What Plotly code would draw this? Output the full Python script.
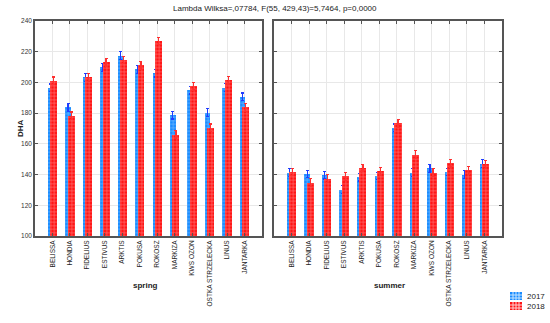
import plotly.graph_objects as go

categories = ["BELISSA", "HONDIA", "FIDELIUS", "ESTIVUS", "ARKTIS", "POKUSA", "ROKOSZ",
              "MARKIZA", "KWS OZON", "OSTKA STRZELECKA", "LINUS", "JANTARKA"]
spring_2017 = [196.5, 183.7, 203.3, 209.8, 217.4, 208.5, 206.0, 178.7, 195.0, 180.4, 196.7, 190.6]
spring_2018 = [201.0, 178.3, 203.3, 213.0, 214.6, 211.3, 227.0, 166.0, 197.6, 170.4, 201.5, 183.7]
summer_2017 = [141.3, 140.4, 139.6, 130.2, 138.3, 139.1, 170.4, 141.3, 144.1, 141.7, 140.0, 147.2]
summer_2018 = [141.7, 134.8, 137.4, 138.9, 144.3, 142.2, 173.3, 153.0, 141.3, 147.4, 142.8, 146.7]
err_2017 = [2.5, 2.5, 2.5, 2.5, 2.5, 2.5, 2.5, 2.5, 2.5, 2.5, 2.5, 2.5]
err_2018 = [2.5, 2.5, 2.5, 2.5, 2.5, 2.5, 2.5, 2.5, 2.5, 2.5, 2.5, 2.5]
years = ["2017", "2018"]
seasons = ["spring", "summer"]
title_text = "Lambda Wilksa=,07784, F(55, 429,43)=5,7464, p=0,0000"

FONT = "Liberation Sans, Arial, sans-serif"
BLUE = "#1a8cff"
RED = "#ff1414"
BLUE_FG = "#c8e6ff"
RED_FG = "#ffd0d0"
idx = list(range(len(categories)))

fig = go.Figure()

def add_pair(v17, v18, xa, ya):
    fig.add_trace(go.Bar(
        x=idx, y=v17, base=0, name=years[0], showlegend=False,
        offset=-0.27, width=0.32, xaxis=xa, yaxis=ya,
        marker=dict(color=BLUE, line=dict(width=0),
                    pattern=dict(shape="+", bgcolor=BLUE, fgcolor=BLUE_FG, size=3.5, solidity=0.35)),
        error_y=dict(type="data", array=err_2017, color="#1f3dff", thickness=1.2, width=1.5),
    ))
    fig.add_trace(go.Bar(
        x=idx, y=v18, base=0, name=years[1], showlegend=False,
        offset=-0.13, width=0.40, xaxis=xa, yaxis=ya,
        marker=dict(color=RED, line=dict(width=0),
                    pattern=dict(shape="+", bgcolor=RED, fgcolor=RED_FG, size=3.5, solidity=0.35)),
        error_y=dict(type="data", array=err_2018, color="#ff3030", thickness=1.2, width=1.5),
    ))

add_pair(spring_2017, spring_2018, "x", "y")
add_pair(summer_2017, summer_2018, "x2", "y2")

ydom = [1 - 236 / 323, 1 - 21 / 323]
xcommon = dict(
    tickmode="array", tickvals=idx, ticktext=categories, tickangle=-90,
    range=[-1, 12], showgrid=True, gridcolor="#e8e8e8", gridwidth=1,
    showline=True, linecolor="#555555", linewidth=1.5, mirror="ticks",
    ticks="inside", ticklen=3, tickcolor="#555555",
    tickfont=dict(family=FONT, size=6.5, color="#222222"),
    zeroline=False, fixedrange=True, automargin=False,
)
ycommon = dict(
    range=[100, 240], tickvals=[100, 120, 140, 160, 180, 200, 220, 240],
    showgrid=True, gridcolor="#e8e8e8", gridwidth=1,
    showline=True, linecolor="#555555", linewidth=1.5, mirror="ticks",
    ticks="inside", ticklen=3, tickcolor="#555555",
    tickfont=dict(family=FONT, size=6.5, color="#333333"),
    zeroline=False, domain=ydom, automargin=False, fixedrange=True,
)

fig.update_layout(
    width=550, height=323,
    margin=dict(l=0, r=0, t=0, b=0, autoexpand=False),
    paper_bgcolor="white", plot_bgcolor="white",
    barmode="overlay", bargap=0,
    font=dict(family=FONT, color="#222222"),
    xaxis=dict(domain=[35 / 550, 262 / 550], anchor="y", **xcommon),
    xaxis2=dict(domain=[274 / 550, 502 / 550], anchor="y2", **xcommon),
    yaxis=dict(anchor="x", **ycommon),
    yaxis2=dict(anchor="x2", showticklabels=False, **ycommon),
    showlegend=False,
)

def text_at(text, xpx, ypx, size=8, angle=0, xanchor="center"):
    fig.add_annotation(text=text, x=xpx / 550, y=1 - ypx / 323, xref="paper", yref="paper",
                       xanchor=xanchor, yanchor="middle", showarrow=False, textangle=angle,
                       font=dict(family=FONT, size=size, color="#222222"))

text_at(title_text, 275, 9)
text_at("<b>DHA</b>", 20, 128, angle=-90)
text_at("<b>" + seasons[0] + "</b>", 145, 285)
text_at("<b>" + seasons[1] + "</b>", 389, 285)

# manual legend (compact, like the reference)
legend_items = [(years[0], BLUE, BLUE_FG, 296), (years[1], RED, RED_FG, 306)]
for label, col, fg, yc in legend_items:
    x0, x1 = 510, 522
    y0, y1 = yc - 4, yc + 4
    fig.add_shape(type="rect", xref="paper", yref="paper",
                  x0=x0 / 550, x1=x1 / 550, y0=1 - y1 / 323, y1=1 - y0 / 323,
                  fillcolor=col, line=dict(width=0))
    for xx in [x0 + 3, x0 + 6, x0 + 9]:
        fig.add_shape(type="line", xref="paper", yref="paper",
                      x0=xx / 550, x1=xx / 550, y0=1 - y1 / 323, y1=1 - y0 / 323,
                      line=dict(color=fg, width=1))
    for yy in [y0 + 3, y0 + 6]:
        fig.add_shape(type="line", xref="paper", yref="paper",
                      x0=x0 / 550, x1=x1 / 550, y0=1 - yy / 323, y1=1 - yy / 323,
                      line=dict(color=fg, width=1))
    text_at(label, 525, yc, xanchor="left")

fig.write_html("out.html", config={"displayModeBar": False},
               post_script="document.body.style.margin='0';document.body.style.padding='0';")
